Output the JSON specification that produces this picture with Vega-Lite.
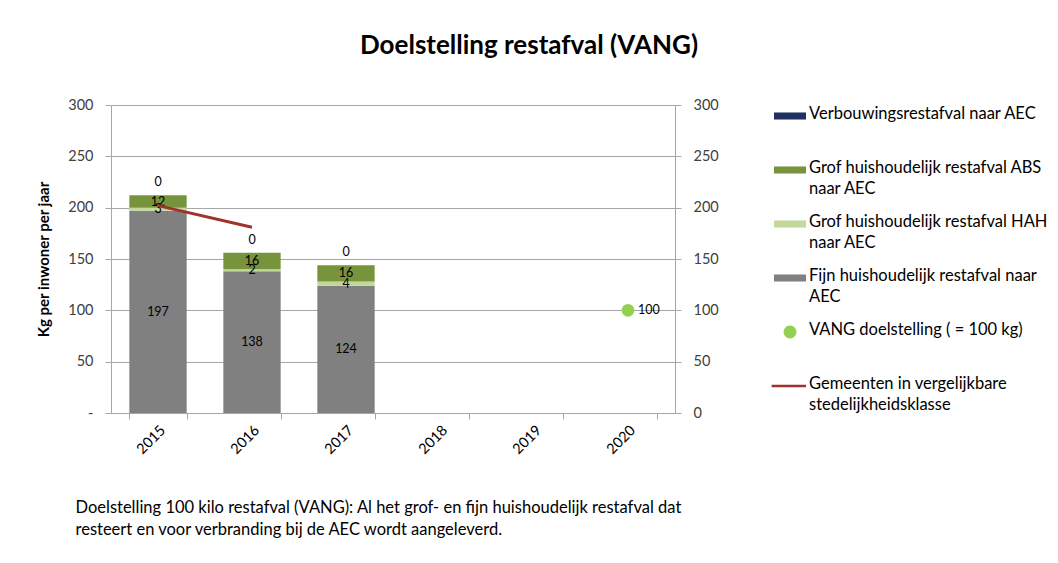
{
  "$schema": "https://vega.github.io/schema/vega-lite/v6.json",
  "width": 564,
  "height": 308,
  "autosize": {"type": "none"},
  "padding": {"left": 111, "top": 105, "right": 383, "bottom": 150},
  "background": "white",
  "config": {
    "font": "Lato",
    "view": {"stroke": null},
    "axis": {
      "labelFont": "Lato",
      "titleFont": "Lato",
      "domainColor": "#a6a6a6",
      "tickColor": "#a6a6a6",
      "gridColor": "#a6a6a6",
      "labelColor": "#404040",
      "titleColor": "#000000"
    }
  },
  "title": {
    "text": "Doelstelling restafval (VANG)",
    "fontSize": 26,
    "fontWeight": "bold",
    "font": "Lato",
    "color": "#000000",
    "anchor": "middle",
    "dx": 136,
    "offset": 38
  },
  "datasets": {
    "stapel": [
      {"jaar": "2015", "serie": "Fijn huishoudelijk restafval naar AEC", "waarde": 197, "volgorde": 1},
      {"jaar": "2015", "serie": "Grof huishoudelijk restafval HAH naar AEC", "waarde": 3, "volgorde": 2},
      {"jaar": "2015", "serie": "Grof huishoudelijk restafval ABS naar AEC", "waarde": 12, "volgorde": 3},
      {"jaar": "2015", "serie": "Verbouwingsrestafval naar AEC", "waarde": 0, "volgorde": 4},
      {"jaar": "2016", "serie": "Fijn huishoudelijk restafval naar AEC", "waarde": 138, "volgorde": 1},
      {"jaar": "2016", "serie": "Grof huishoudelijk restafval HAH naar AEC", "waarde": 2, "volgorde": 2},
      {"jaar": "2016", "serie": "Grof huishoudelijk restafval ABS naar AEC", "waarde": 16, "volgorde": 3},
      {"jaar": "2016", "serie": "Verbouwingsrestafval naar AEC", "waarde": 0, "volgorde": 4},
      {"jaar": "2017", "serie": "Fijn huishoudelijk restafval naar AEC", "waarde": 124, "volgorde": 1},
      {"jaar": "2017", "serie": "Grof huishoudelijk restafval HAH naar AEC", "waarde": 4, "volgorde": 2},
      {"jaar": "2017", "serie": "Grof huishoudelijk restafval ABS naar AEC", "waarde": 16, "volgorde": 3},
      {"jaar": "2017", "serie": "Verbouwingsrestafval naar AEC", "waarde": 0, "volgorde": 4}
    ],
    "lijn": [
      {"jaar": "2015", "serie": "Gemeenten in vergelijkbare stedelijkheidsklasse", "waarde": 202},
      {"jaar": "2016", "serie": "Gemeenten in vergelijkbare stedelijkheidsklasse", "waarde": 181}
    ],
    "doel": [
      {"jaar": "2020", "serie": "VANG doelstelling ( = 100 kg)", "waarde": 100}
    ]
  },
  "encoding": {
    "x": {
      "field": "jaar",
      "type": "nominal",
      "scale": {"domain": ["2015", "2016", "2017", "2018", "2019", "2020"], "paddingInner": 0.39, "paddingOuter": 0.195},
      "axis": {
        "title": ["Doelstelling 100 kilo restafval (VANG):  Al het grof- en fijn huishoudelijk restafval dat", "resteert en voor verbranding bij de AEC wordt aangeleverd."],
        "titleFontSize": 16.5,
        "titleFontWeight": "normal",
        "titleColor": "#000000",
        "titleAnchor": "start",
        "titleAlign": "left",
        "titleBaseline": "top",
        "titleX": -36,
        "titleY": 86,
        "titleLineHeight": 22,
        "labelAngle": -45,
        "labelAlign": "right",
        "labelBaseline": "top",
        "labelFontSize": 14.5,
        "labelColor": "#000000",
        "labelPadding": 4,
        "tickBand": "extent",
        "tickSize": 6,
        "domainColor": "#a6a6a6"
      }
    },
    "color": {
      "field": "serie",
      "type": "nominal",
      "scale": {
        "domain": [
          "Verbouwingsrestafval naar AEC",
          "Grof huishoudelijk restafval ABS naar AEC",
          "Grof huishoudelijk restafval HAH naar AEC",
          "Fijn huishoudelijk restafval naar AEC",
          "VANG doelstelling ( = 100 kg)",
          "Gemeenten in vergelijkbare stedelijkheidsklasse"
        ],
        "range": ["#1f2f5f", "#77933c", "#c4d79b", "#808080", "#92d050", "#a0322e"]
      },
      "legend": {
        "title": null,
        "orient": "none",
        "legendX": 663,
        "legendY": -5,
        "direction": "vertical",
        "labelFontSize": 16.5,
        "labelFont": "Lato",
        "labelColor": "#000000",
        "labelLimit": 320,
        "labelOffset": 3,
        "rowPadding": 10,
        "symbolSize": 1024,
        "labelBaseline": "top",
        "labelExpr": "datum.label == 'Grof huishoudelijk restafval ABS naar AEC' ? ['Grof huishoudelijk restafval ABS', 'naar AEC'] : datum.label == 'Grof huishoudelijk restafval HAH naar AEC' ? ['Grof huishoudelijk restafval HAH', 'naar AEC'] : datum.label == 'Fijn huishoudelijk restafval naar AEC' ? ['Fijn huishoudelijk restafval naar', 'AEC'] : datum.label == 'Gemeenten in vergelijkbare stedelijkheidsklasse' ? ['Gemeenten in vergelijkbare', 'stedelijkheidsklasse'] : [datum.label, ' ']",
        "encode": {
          "labels": {"update": {"dy": {"value": -10}, "lineHeight": {"value": 21}}},
          "symbols": {
            "update": {
              "shape": {"signal": "datum.value == 'VANG doelstelling ( = 100 kg)' ? 'M-0.4,0A0.4,0.4 0 1,0 0.4,0A0.4,0.4 0 1,0 -0.4,0Z' : datum.value == 'Gemeenten in vergelijkbare stedelijkheidsklasse' ? 'M-1.15,-0.08H1V0.08H-1.15Z' : 'M-1,-0.22H1V0.22H-1Z'"},
              "size": {"value": 1024},
              "fill": {"signal": "scale('color', datum.value)"},
              "stroke": {"value": "transparent"},
              "strokeWidth": {"value": 0},
              "opacity": {"value": 1},
              "fillOpacity": {"value": 1}
            }
          }
        }
      }
    }
  },
  "layer": [
    {
      "data": {"name": "stapel"},
      "mark": {"type": "bar"},
      "encoding": {
        "y": {
          "field": "waarde",
          "type": "quantitative",
          "stack": "zero",
          "scale": {"domain": [0, 300]},
          "axis": {
            "orient": "left",
            "title": "Kg per inwoner per jaar",
            "titleFontSize": 15,
            "titleFontWeight": "bold",
            "titlePadding": 16,
            "values": [0, 50, 100, 150, 200, 250, 300],
            "labelExpr": "datum.value == 0 ? '-' : datum.label",
            "labelFontSize": 14.5,
            "labelPadding": 12,
            "tickSize": 6,
            "grid": true,
            "gridColor": "#a6a6a6"
          }
        },
        "order": {"field": "volgorde", "type": "quantitative"}
      }
    },
    {
      "data": {"name": "stapel"},
      "transform": [
        {"stack": "waarde", "groupby": ["jaar"], "sort": [{"field": "volgorde"}], "as": ["v0", "v1"]},
        {"filter": "datum.waarde > 0"},
        {"calculate": "(datum.v0 + datum.v1) / 2", "as": "midden"}
      ],
      "mark": {"type": "text", "fontSize": 12.5, "font": "Lato"},
      "encoding": {
        "y": {"field": "midden", "type": "quantitative", "scale": {"domain": [0, 300]}, "axis": null},
        "text": {"field": "waarde", "type": "quantitative"},
        "color": {"value": "#000000"}
      }
    },
    {
      "data": {"name": "stapel"},
      "transform": [
        {"stack": "waarde", "groupby": ["jaar"], "sort": [{"field": "volgorde"}], "as": ["v0", "v1"]},
        {"filter": "datum.volgorde == 4"}
      ],
      "mark": {"type": "text", "fontSize": 12.5, "font": "Lato", "dy": -13},
      "encoding": {
        "y": {"field": "v1", "type": "quantitative", "scale": {"domain": [0, 300]}, "axis": null},
        "text": {"field": "waarde", "type": "quantitative"},
        "color": {"value": "#000000"}
      }
    },
    {
      "data": {"name": "lijn"},
      "mark": {"type": "line", "strokeWidth": 3},
      "encoding": {
        "y": {"field": "waarde", "type": "quantitative", "scale": {"domain": [0, 300]}, "axis": null}
      }
    },
    {
      "data": {"name": "doel"},
      "mark": {"type": "point", "filled": true, "opacity": 1, "size": 160},
      "encoding": {
        "y": {
          "field": "waarde",
          "type": "quantitative",
          "scale": {"domain": [0, 300]},
          "axis": {
            "orient": "right",
            "title": null,
            "values": [0, 50, 100, 150, 200, 250, 300],
            "labelFontSize": 14.5,
            "labelPadding": 12,
            "tickSize": 6,
            "grid": false
          }
        }
      }
    },
    {
      "data": {"name": "doel"},
      "mark": {"type": "text", "fontSize": 12.5, "align": "left", "dx": 10, "font": "Lato"},
      "encoding": {
        "y": {"field": "waarde", "type": "quantitative", "scale": {"domain": [0, 300]}, "axis": null},
        "text": {"field": "waarde", "type": "quantitative"},
        "color": {"value": "#000000"}
      }
    }
  ],
  "resolve": {"scale": {"y": "independent"}}
}
